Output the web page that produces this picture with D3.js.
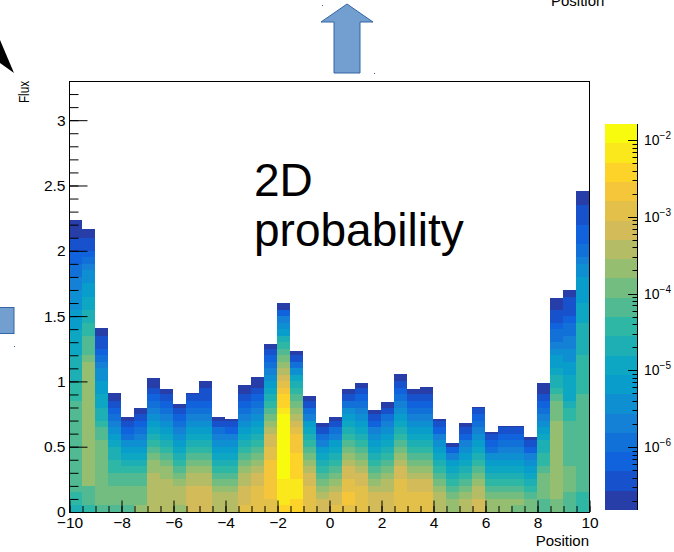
<!DOCTYPE html>
<html lang="en">
<head>
<meta charset="UTF-8">
<title>Flux vs Position</title>
<script src="https://d3js.org/d3.v7.min.js"></script>
<style>
    body { margin: 0; background: #fff; }
    svg { display: block; font-family: "Liberation Sans", Arial, sans-serif; }
</style>
</head>
<body>
<div id="chart"></div>
<script>
const W = 674, H = 552;
const frame = {left: 69, right: 589, top: 81, bottom: 512};

// 40 position bins (width 0.5), height of each flux column
const binWidth = 0.5;
const flux = [2.234, 2.168, 1.405, 0.908, 0.724, 0.793, 1.023, 0.939, 0.824, 0.908,
              1.005, 0.724, 0.709, 0.972, 1.035, 1.285, 1.601, 1.234, 0.890, 0.679,
              0.724, 0.939, 0.989, 0.780, 0.844, 1.056, 0.939, 0.954, 0.709, 0.530,
              0.679, 0.806, 0.610, 0.660, 0.660, 0.576, 0.989, 1.635, 1.699, 2.459];

// colour level (0..19) of the 0.05-high flux cells in each column, bottom to top, "level x count"
const cellH = 0.05;
const levels = [
    "8,9x2,10x14,9x3,8x4,7x4,6x3,5x3,4x2,3x2,2x2,1x2,0x3",
    "9,10x3,12x19,11,10x3,9x2,8x2,7x2,6x2,5x2,4,3,2,1x2,0x2",
    "10,11x10,10x2,9,8x2,7x2,6x2,5x2,4,3,2,1x2,0x2",
    "10,11x3,10x2,9x2,8x2,7,6,5,4,3,2,1,0x2",
    "10,11x3,10x2,9,8,7,6,5,3,2,1,0",
    "12,11x3,10x2,9,8,7,6,5,4,3,2,1,0",
    "13x6,12x2,11,10,9,8,7,6,5,4,3,2,1,0x2",
    "13x5,12x2,11,10,9,8,7,6,5,4,3,2,1,0",
    "12,13x3,12,11,10,9,8,7,6,5,4,3,2,1,0",
    "14x4,13x2,12,11,10,9,8,7,6,5,4,3,2,1,0",
    "14x4,13x2,12,11,10,9,8,7,6,5,4,3,2,1x2,0x2",
    "13x3,12,11,10,9,8,7,6,5,4,3,1,0",
    "13x3,12,11,10,9,8,7,6,5,4,2,1,0",
    "15,14x3,13x2,12,11,10,9,8,7,6,5,4,3,2,1,0x2",
    "15x4,14x2,13,12,11,10,9,8,7,6,5,4,3,2,1,0x2",
    "15x2,16x6,15x2,14x2,13,12,11,10,9,8,7,6,5,4,3,2,1,0",
    "17,18x4,19x10,18,17x2,16,15,14,13,12,11,10,9,8,6,5,4,2,0x2",
    "17x2,18x3,17x4,16x3,15,14,13,12,11,10,9,8,7,5,3,1,0",
    "15x4,14x2,13,12,11,10,9,8,7,6,4,3,1,0",
    "14x2,13,12,11,10,9,8,7,6,4,3,1,0",
    "15,14x2,13,12,11,10,9,8,7,6,4,3,1,0",
    "15,16x2,15x2,14x2,13,12,11,10,9,8,7,6,5,3,1,0",
    "15x4,14x2,13,12,11,10,9,8,7,6,5,4,3,2,1,0",
    "14x3,13,12,11,10,9,8,7,6,5,4,2,1,0",
    "14x3,13x2,12,11,10,9,8,7,6,5,4,3,1,0",
    "15x5,14x2,13,12,11,10,9,8,7,6,5,4,3,2,1,0x2",
    "15x3,14x2,13,12,11,10,9,8,7,6,5,4,3,2,1,0",
    "15x3,14x2,13,12,11,10,9,8,7,6,5,4,3,2,1,0x2",
    "13x3,12,11,10,9,8,7,6,5,4,2,1,0",
    "12x2,11,10,9,8,7,6,4,2,0",
    "13x2,12,11,10,9,8,7,6,5,4,2,1,0",
    "14x2,13x2,12,11,10,9,8,7,6,5,4,3,2,1,0",
    "12x2,11,10,9,8,7,6,5,3,2,1,0",
    "12x2,11,10,9,8,7,6,5,4,3,2,1,0",
    "11,12,11,10,9,8,7,6,5,4,3,2,1,0",
    "11x2,10,9,8,7,6,5,4,2,1,0",
    "10x2,11x4,10,9x2,8x2,7,6,5,4,3,2,1,0x2",
    "11x2,12x12,11x3,10,9,8x2,7,6x2,5,4,3x2,2,1x2,0x2",
    "10x3,11x4,10x7,9x2,8,7x4,6x2,5x2,4x2,3x2,2,1x3,0",
    "9x3,10x15,9x6,8x5,7x3,6x4,5x2,4,3x2,2x3,1x3,0x3"
];

const xTicks = [-10, -8, -6, -4, -2, 0, 2, 4, 6, 8, 10];
const yTicks = [0, 0.5, 1, 1.5, 2, 2.5, 3];
const zRange = [Math.pow(10, -6.82), Math.pow(10, -1.79)];
const zTicks = [1e-6, 1e-5, 1e-4, 1e-3, 1e-2];
const nLevels = 20;

// ROOT kBird palette stops
const bird = [[0.2082,0.1664,0.5293],[0.0592,0.3599,0.8684],[0.0780,0.5041,0.8385],
              [0.0232,0.6419,0.7914],[0.1802,0.7178,0.6425],[0.5301,0.7492,0.4662],
              [0.8186,0.7328,0.3499],[0.9956,0.7862,0.1968],[0.9764,0.9832,0.0539]];
const birdScale = d3.scaleLinear()
    .domain(bird.map((d, i) => i / (bird.length - 1)))
    .range(bird.map(d => d3.rgb(d[0] * 255, d[1] * 255, d[2] * 255).toString()));
const levelColor = i => birdScale(Math.floor((i + 0.99) * 255 / nLevels) / 254);

const svg = d3.select("#chart").append("svg")
    .attr("width", W)
    .attr("height", H);

const x = d3.scaleLinear().domain([-10, 10]).range([frame.left, frame.right]);
const y = d3.scaleLinear().domain([0, 3.3]).range([frame.bottom, frame.top]);

// build cells
const cells = [];
flux.forEach((top, c) => {
    const x0 = -10 + c * binWidth;
    const runs = levels[c].split(",").map(s => s.split("x").map(Number));
    let k = 0;
    runs.forEach(([lev, n = 1], r) => {
        for (let j = 0; j < n; j++, k++) {
            const y0 = k * cellH;
            if (y0 >= top) return;
            const last = r === runs.length - 1 && j === n - 1;
            const y1 = last ? top : Math.min((k + 1) * cellH, top);
            cells.push({x0, y0, y1, lev});
        }
    });
});

svg.append("g")
    .attr("shape-rendering", "crispEdges")
    .selectAll("rect")
    .data(cells)
    .enter().append("rect")
    .attr("x", d => x(d.x0))
    .attr("width", d => x(d.x0 + binWidth) - x(d.x0))
    .attr("y", d => y(d.y1))
    .attr("height", d => y(d.y0) - y(d.y1))
    .attr("fill", d => levelColor(d.lev));

// frame
svg.append("rect")
    .attr("x", frame.left + 0.5)
    .attr("y", frame.top + 0.5)
    .attr("width", frame.right - frame.left)
    .attr("height", frame.bottom - frame.top)
    .attr("fill", "none")
    .attr("stroke", "#000")
    .attr("stroke-width", 1);

// x axis: ticks point inwards
const fmtX = d3.format("d");
svg.append("g")
    .attr("transform", `translate(0.5,${frame.bottom})`)
    .call(d3.axisBottom(x).tickValues(d3.range(-10, 10.01, 0.5)).tickSize(-6).tickFormat(""))
    .call(g => g.select(".domain").remove());
svg.append("g")
    .attr("transform", `translate(0.5,${frame.bottom})`)
    .call(d3.axisBottom(x).tickValues(xTicks).tickSize(-11.5).tickPadding(5).tickFormat(fmtX))
    .call(g => g.select(".domain").remove())
    .call(g => g.selectAll("text").attr("font-size", "15.5px").attr("font-family", "Liberation Sans, Arial, sans-serif").attr("fill", "#000"));

// y axis
svg.append("g")
    .attr("transform", `translate(${frame.left + 0.5},0)`)
    .call(d3.axisLeft(y).tickValues(d3.range(0, 3.31, 0.1)).tickSize(-9).tickFormat(""))
    .call(g => g.select(".domain").remove());
svg.append("g")
    .attr("transform", `translate(${frame.left + 0.5},0)`)
    .call(d3.axisLeft(y).tickValues(yTicks).tickSize(-18).tickPadding(4).tickFormat(d3.format("~g")))
    .call(g => g.select(".domain").remove())
    .call(g => g.selectAll("text").attr("font-size", "15.5px").attr("font-family", "Liberation Sans, Arial, sans-serif").attr("fill", "#000"));

// axis titles
svg.append("text")
    .attr("x", frame.right)
    .attr("y", 546)
    .attr("text-anchor", "end")
    .attr("font-size", "15px")
    .text("Position");

svg.append("text")
    .attr("transform", "translate(29,81) rotate(-90)")
    .attr("text-anchor", "end")
    .attr("font-size", "15px")
    .attr("textLength", 22)
    .attr("lengthAdjust", "spacingAndGlyphs")
    .text("Flux");

// colour bar
const cb = {left: 605, right: 637, top: 124, bottom: 510};
const cbBand = d3.scaleLinear().domain([0, nLevels]).range([cb.bottom, cb.top]);
const z = d3.scaleLog().domain(zRange).range([cb.bottom, cb.top]);

svg.append("g")
    .attr("shape-rendering", "crispEdges")
    .selectAll("rect")
    .data(d3.range(nLevels))
    .enter().append("rect")
    .attr("x", cb.left)
    .attr("width", cb.right - cb.left)
    .attr("y", d => cbBand(d + 1))
    .attr("height", d => cbBand(d) - cbBand(d + 1))
    .attr("fill", d => levelColor(d));

svg.append("line")
    .attr("x1", cb.right + 0.5).attr("x2", cb.right + 0.5)
    .attr("y1", cb.top).attr("y2", cb.bottom)
    .attr("stroke", "#000");

const minor = [];
d3.range(-7, -1).forEach(e => {
    d3.range(2, 10).forEach(m => {
        const v = m * Math.pow(10, e);
        if (v > zRange[0] && v < zRange[1]) minor.push(v);
    });
});
svg.append("g")
    .selectAll("line")
    .data(minor)
    .enter().append("line")
    .attr("x1", cb.right - 4.5).attr("x2", cb.right)
    .attr("y1", d => Math.round(z(d)) + 0.5).attr("y2", d => Math.round(z(d)) + 0.5)
    .attr("stroke", "#000");
svg.append("g")
    .selectAll("line")
    .data(zTicks)
    .enter().append("line")
    .attr("x1", cb.right - 9).attr("x2", cb.right)
    .attr("y1", d => Math.round(z(d)) + 0.5).attr("y2", d => Math.round(z(d)) + 0.5)
    .attr("stroke", "#000");

const zLab = svg.append("g")
    .selectAll("text")
    .data(zTicks)
    .enter().append("text")
    .attr("x", 644)
    .attr("y", d => z(d) + 5)
    .attr("font-size", "14px");
zLab.append("tspan").text("10");
zLab.append("tspan")
    .attr("dy", -6)
    .attr("font-size", "10px")
    .text(d => "\u2212" + Math.round(-Math.log10(d)));

// overlay annotation
svg.append("text")
    .attr("x", 254)
    .attr("y", 196)
    .attr("font-size", "46px")
    .text("2D");
svg.append("text")
    .attr("x", 254)
    .attr("y", 246)
    .attr("font-size", "46px")
    .text("probability");

// slide decorations around the plot
const shapeFill = "#729fcf", shapeStroke = "#3465a4";
svg.append("polygon")
    .attr("points", "347,4 373,22 360,22 360,73 334,73 334,22 321,22")
    .attr("fill", shapeFill)
    .attr("stroke", shapeStroke)
    .attr("stroke-width", 1);
svg.append("rect")
    .attr("x", -1).attr("y", 307.5)
    .attr("width", 15).attr("height", 26)
    .attr("fill", shapeFill)
    .attr("stroke", shapeStroke);
svg.append("polygon")
    .attr("points", "0,40 14,73 0,63")
    .attr("fill", "#000");
[[374, 73], [322, 5], [14, 346]].forEach(p => {
    svg.append("rect").attr("x", p[0]).attr("y", p[1]).attr("width", 1).attr("height", 1).attr("fill", shapeStroke);
});
svg.append("text")
    .attr("x", 551)
    .attr("y", 6)
    .attr("font-size", "15px")
    .text("Position");
</script>
</body>
</html>
